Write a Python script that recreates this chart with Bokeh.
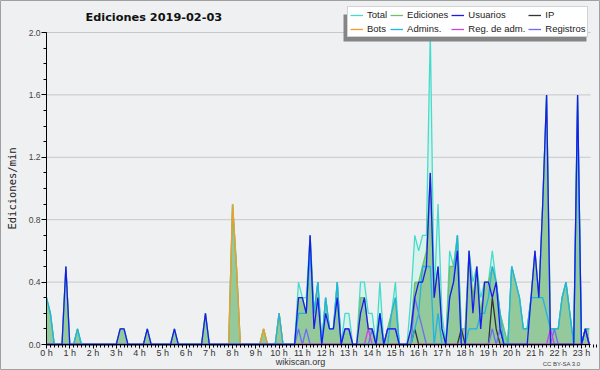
from bokeh.plotting import figure
from bokeh.models import (Range1d, FixedTicker, Legend, LegendItem, Label,
                          BoxAnnotation, CustomJSTickFormatter, PrintfTickFormatter)
from bokeh.embed import file_html
from bokeh.resources import INLINE

# ---- data: edits per minute, 10-minute slots over 2019-02-03 (visible part, to 23:20) ----
slot_minutes = list(range(0, 1410, 10))

total = [
    0.3, 0.2, 0, 0, 0, 0.5,        # 0h
    0, 0, 0.1, 0, 0, 0,            # 1h
    0, 0, 0, 0, 0, 0,              # 2h
    0, 0.1, 0.1, 0, 0, 0,          # 3h
    0, 0, 0.1, 0, 0, 0,            # 4h
    0, 0, 0, 0.1, 0, 0,            # 5h
    0, 0, 0, 0, 0, 0.2,            # 6h
    0, 0, 0, 0, 0, 0,              # 7h
    0.9, 0.5, 0, 0, 0, 0,          # 8h
    0, 0, 0.1, 0, 0, 0,            # 9h
    0.2, 0, 0, 0, 0, 0.4,          # 10h
    0.3, 0.3, 0.7, 0.2, 0.4, 0,    # 11h
    0.3, 0.1, 0.1, 0.4, 0, 0.2,    # 12h
    0.2, 0, 0, 0.4, 0.4, 0.2,      # 13h
    0.2, 0, 0.4, 0, 0.1, 0.2,      # 14h
    0.4, 0, 0, 0, 0.3, 0.7,        # 15h
    0.6, 0.7, 0.7, 2.0, 0.3, 0.9,  # 16h
    0.2, 0, 0.6, 0.5, 0.7, 0.1,    # 17h
    0.1, 0.6, 0.4, 0.5, 0.3, 0.4,  # 18h
    0.4, 0.6, 0.4, 0.2, 0.1, 0,    # 19h
    0.5, 0.4, 0.3, 0.1, 0.1, 0.3,  # 20h
    0.6, 0.3, 0.9, 1.6, 0.1, 0.1,  # 21h
    0.1, 0.3, 0.4, 0.2, 0, 1.6,    # 22h
    0, 0.1, 0.1,                   # 23h
]

edits = [
    0.3, 0.2, 0, 0, 0, 0.5,
    0, 0, 0.1, 0, 0, 0,
    0, 0, 0, 0, 0, 0,
    0, 0.1, 0.1, 0, 0, 0,
    0, 0, 0.1, 0, 0, 0,
    0, 0, 0, 0.1, 0, 0,
    0, 0, 0, 0, 0, 0.2,
    0, 0, 0, 0, 0, 0,
    0.9, 0.5, 0, 0, 0, 0,
    0, 0, 0.1, 0, 0, 0,
    0.2, 0, 0, 0, 0, 0.3,
    0.3, 0.2, 0.7, 0.2, 0.4, 0,
    0.3, 0.1, 0.1, 0.4, 0, 0.1,
    0.1, 0, 0, 0.3, 0.3, 0.1,
    0.1, 0, 0.2, 0, 0.1, 0.2,
    0.3, 0, 0, 0, 0.1, 0.4,
    0.4, 0.5, 0.6, 1.1, 0.3, 0.5,
    0.1, 0, 0.5, 0.5, 0.7, 0.1,
    0.1, 0.6, 0.3, 0.5, 0.2, 0.4,
    0.4, 0.5, 0.4, 0.2, 0.1, 0,
    0.5, 0.4, 0.3, 0.1, 0.1, 0.3,
    0.6, 0.3, 0.9, 1.6, 0.1, 0.1,
    0.1, 0.3, 0.4, 0.2, 0, 1.6,
    0, 0.1, 0.1,
]

users = [
    0, 0, 0, 0, 0, 0.5,
    0, 0, 0, 0, 0, 0,
    0, 0, 0, 0, 0, 0,
    0, 0.1, 0.1, 0, 0, 0,
    0, 0, 0.1, 0, 0, 0,
    0, 0, 0, 0.1, 0, 0,
    0, 0, 0, 0, 0, 0.2,
    0, 0, 0, 0, 0, 0,
    0, 0, 0, 0, 0, 0,
    0, 0, 0, 0, 0, 0,
    0, 0, 0, 0, 0, 0.3,
    0.3, 0.2, 0.7, 0.1, 0.3, 0,
    0.2, 0.1, 0.1, 0.3, 0, 0.1,
    0.1, 0, 0, 0.2, 0.3, 0.1,
    0.1, 0, 0.2, 0, 0.1, 0.1,
    0.1, 0, 0, 0, 0.1, 0.3,
    0.4, 0.4, 0.5, 1.1, 0.3, 0.5,
    0.1, 0, 0.3, 0.4, 0.6, 0,
    0, 0.6, 0.2, 0.5, 0.1, 0.4,
    0.4, 0.3, 0.4, 0.1, 0, 0,
    0, 0, 0, 0, 0, 0.3,
    0.6, 0.3, 0.9, 1.6, 0, 0,
    0, 0, 0, 0, 0, 1.6,
    0, 0.1, 0,
]

admins = [
    0.3, 0.2, 0, 0, 0, 0,
    0, 0, 0.1, 0, 0, 0,
    0, 0, 0, 0, 0, 0,
    0, 0, 0, 0, 0, 0,
    0, 0, 0, 0, 0, 0,
    0, 0, 0, 0, 0, 0,
    0, 0, 0, 0, 0, 0,
    0, 0, 0, 0, 0, 0,
    0, 0, 0, 0, 0, 0,
    0, 0, 0, 0, 0, 0,
    0.2, 0, 0, 0, 0, 0.2,
    0.2, 0.2, 0.6, 0.2, 0.4, 0,
    0.3, 0.1, 0.1, 0.4, 0, 0,
    0, 0, 0, 0, 0, 0,
    0, 0, 0.2, 0, 0, 0.2,
    0.3, 0, 0, 0, 0, 0.1,
    0.2, 0.5, 0.5, 0.5, 0, 0.2,
    0, 0, 0.3, 0.4, 0.7, 0,
    0, 0.1, 0.1, 0.1, 0.2, 0.2,
    0.3, 0.5, 0.4, 0.2, 0, 0,
    0.5, 0.4, 0.3, 0.1, 0.1, 0.3,
    0.3, 0.3, 0.3, 0.2, 0.1, 0.1,
    0.1, 0.3, 0.4, 0.2, 0, 1.5,
    0, 0.1, 0.1,
]

N = len(slot_minutes)
ip = [0.0] * N
for i, v in [(95, 0.1), (107, 0.1), (115, 0.3), (116, 0.1), (139, 0.1)]:
    ip[i] = v

bots = [0.0] * N
for i, v in [(48, 0.9), (49, 0.5), (56, 0.1), (60, 0.2)]:
    bots[i] = v

registros = [0.0] * N
for i, v in [(65, 0.1), (67, 0.1), (77, 0.1), (78, 0.1), (84, 0.1), (88, 0.1),
             (89, 0.1), (90, 0.1), (95, 0.3), (96, 0.2), (97, 0.1), (115, 0.1),
             (117, 0.1), (131, 0.1), (139, 0.1)]:
    registros[i] = v

reg_adm = [0.0] * N
for i, v in [(83, 0.1), (130, 0.1)]:
    reg_adm[i] = v

hour_ticks = list(range(24))
y_ticks = [0, 0.4, 0.8, 1.2, 1.6, 2.0]
X_END = 23.39          # last visible hour
Y_MAX = 2.0

# ---- figure: frame covers the whole canvas, axes pinned at 0 ----
BG = "#EFF0F2"
x = [m / 60 for m in slot_minutes]
PXH = 23.26            # px per hour
PXU = 156.0            # px per edit/min

p = figure(width=600, height=370, output_backend="svg", toolbar_location=None,
           x_range=Range1d(-46 / PXH, (600 - 46) / PXH),
           y_range=Range1d(-(370 - 344) / PXU, Y_MAX + 32 / PXU),
           min_border=0, background_fill_color=BG, border_fill_color=BG,
           outline_line_color="#A0A0A0")

# grid lines limited to the plotting area
p.segment(x0=[0] * len(y_ticks), x1=[X_END] * len(y_ticks), y0=y_ticks, y1=y_ticks,
          line_color="#C8C8C8", line_width=1)

p.varea(x=x, y1=0, y2=total, fill_color="#DAF2EC")
p.varea(x=x, y1=0, y2=edits, fill_color="#94C99C")

lw = 1.3
r_total = p.line(x, total, line_color="#45DCCB", line_width=lw)
r_edits = p.line(x, edits, line_color="#6CC06C", line_width=lw)
r_bots = p.line(x, bots, line_color="#F39C2B", line_width=lw)
r_ip = p.line(x, ip, line_color="#333333", line_width=lw)
r_reg = p.line(x, registros, line_color="#6E6EEE", line_width=lw)
r_regadm = p.line(x, reg_adm, line_color="#CC44DD", line_width=lw)
r_admins = p.line(x, admins, line_color="#1FB4E2", line_width=lw)
r_users = p.line(x, users, line_color="#1A1AEE", line_width=lw)

# axes
xa = p.xaxis[0]
xa.fixed_location = 0
xa.bounds = (0, X_END)
xa.ticker = FixedTicker(ticks=hour_ticks, minor_ticks=[m / 60 for m in range(0, 1440, 10)])
xa.formatter = CustomJSTickFormatter(code="return tick + ' h'")
xa.major_tick_out = 4
xa.major_tick_in = 0
xa.minor_tick_out = 3
xa.minor_tick_in = 0
xa.major_label_standoff = -1
xa.major_label_text_font = "Liberation Sans"
xa.major_label_text_font_size = "9px"
xa.major_label_text_color = "#333333"
xa.axis_line_color = "black"

ya = p.yaxis[0]
ya.fixed_location = 0
ya.bounds = (0, Y_MAX)
ya.ticker = FixedTicker(ticks=y_ticks, minor_ticks=[k / 10 for k in range(21)])
ya.formatter = PrintfTickFormatter(format="%.1f")
ya.major_tick_out = 5
ya.major_tick_in = 0
ya.minor_tick_out = 3
ya.minor_tick_in = 0
ya.major_label_standoff = 1
ya.major_label_text_font = "Liberation Sans"
ya.major_label_text_font_size = "8.5px"
ya.major_label_text_color = "#444444"
ya.axis_label = "Ediciones/min"
ya.axis_label_text_font = "DejaVu Sans Mono"
ya.axis_label_text_font_style = "normal"
ya.axis_label_text_font_size = "10.5px"
ya.axis_label_text_color = "#222222"
ya.axis_label_standoff = 8
ya.axis_line_color = "black"

p.xgrid.visible = False
p.ygrid.visible = False

# legend shadow (offset down-left)
p.add_layout(BoxAnnotation(left=(343 - 46) / PXH, right=(586 - 46) / PXH,
                           bottom=(344 - 41) / PXU, top=(344 - 14) / PXU,
                           fill_color="#858585", fill_alpha=1, line_color=None))

legend = Legend(items=[
    LegendItem(label="Total", renderers=[r_total]),
    LegendItem(label="Ediciones", renderers=[r_edits]),
    LegendItem(label="Usuarios", renderers=[r_users]),
    LegendItem(label="IP", renderers=[r_ip]),
    LegendItem(label="Bots", renderers=[r_bots]),
    LegendItem(label="Admins.", renderers=[r_admins]),
    LegendItem(label="Reg. de adm.", renderers=[r_regadm]),
    LegendItem(label="Registros", renderers=[r_reg]),
], location=(347, 370 - 37), orientation="horizontal", ncols=4,
    background_fill_color="white", background_fill_alpha=1,
    border_line_color="#A8A8A8", border_line_width=1,
    padding=2, spacing=3, margin=0, glyph_width=13, glyph_height=8,
    label_height=8, label_standoff=4,
    label_text_font="Liberation Sans", label_text_font_size="9.5px",
    label_text_line_height=0.9,
    label_text_color="#222222", label_text_baseline="middle")
p.add_layout(legend)

p.add_layout(Label(x=(85 - 46) / PXH, y=(344 - 17) / PXU, text="Ediciones  2019-02-03",
                   text_font="DejaVu Sans", text_font_style="bold",
                   text_font_size="11.3px", text_color="#111111",
                   text_align="left", text_baseline="middle"))
p.add_layout(Label(x=(300 - 46) / PXH, y=-(361 - 344) / PXU, text="wikiscan.org",
                   text_font="Liberation Sans", text_font_size="9px",
                   text_color="#333333", text_align="center", text_baseline="middle"))
p.add_layout(Label(x=(580 - 46) / PXH, y=-(363 - 344) / PXU, text="CC BY-SA 3.0",
                   text_font="Liberation Sans", text_font_size="6px",
                   text_color="#444444", text_align="right", text_baseline="middle"))

open("out.html", "w").write(file_html(p, INLINE))
